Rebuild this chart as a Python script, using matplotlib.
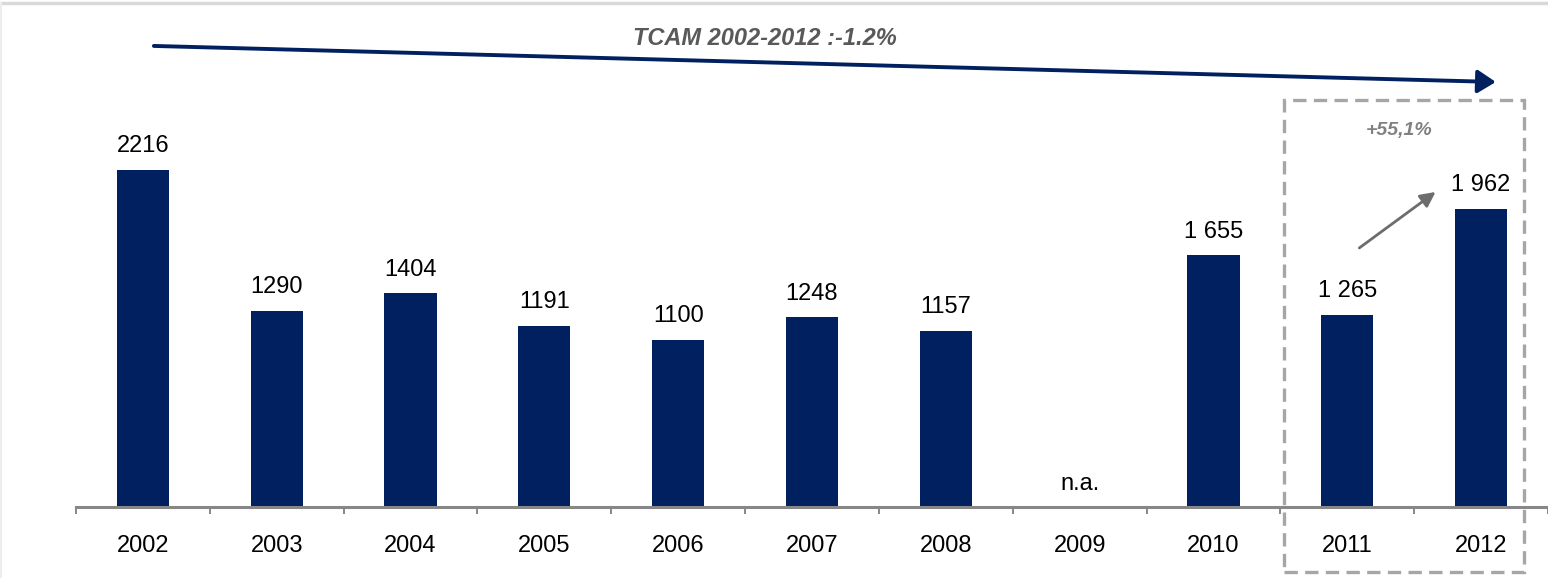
import matplotlib
matplotlib.use("Agg")
import matplotlib.pyplot as plt
from matplotlib.patches import Rectangle
from matplotlib.lines import Line2D

years = ["2002", "2003", "2004", "2005", "2006", "2007", "2008", "2009", "2010", "2011", "2012"]
values = [2216, 1290, 1404, 1191, 1100, 1248, 1157, None, 1655, 1265, 1962]
value_labels = ["2216", "1290", "1404", "1191", "1100", "1248", "1157", "n.a.", "1 655", "1 265", "1 962"]
cagr_text = "TCAM 2002-2012 :-1.2%"
growth_text = "+55,1%"

plt.rcParams['font.family'] = ['Liberation Sans', 'DejaVu Sans']

W, H = 1548, 578
fig = plt.figure(figsize=(W / 100, H / 100), dpi=100)
ax = fig.add_axes([76 / W, 71 / H, 1472 / W, 507 / H])

bar_color = "#002060"
axis_gray = "#878787"
x = list(range(len(years)))
heights = [v if v is not None else 0 for v in values]
bars = ax.bar(x, heights, width=0.39, color=bar_color, zorder=2)

ax.set_xlim(-0.5, 10.485)
ax.set_ylim(0, 3333)

for s in ["top", "right", "left"]:
    ax.spines[s].set_visible(False)
ax.spines["bottom"].set_color(axis_gray)
ax.spines["bottom"].set_linewidth(2.2)
ax.set_yticks([])

ax.set_xticks([i - 0.5 for i in range(len(years) + 1)])
ax.set_xticklabels([])
ax.tick_params(axis="x", which="major", length=5, width=1.4, color=axis_gray, direction="out")
ax.set_xticks(x, minor=True)
ax.set_xticklabels(years, minor=True, fontsize=17, color="black")
ax.tick_params(axis="x", which="minor", length=0, pad=20)

for i, (v, lab) in enumerate(zip(values, value_labels)):
    if v is None:
        ax.annotate(lab, (i, 0), xytext=(0, 16.5), textcoords="offset points",
                    ha="center", va="center", fontsize=17, color="black")
    else:
        ax.annotate(lab, (i, v), xytext=(0, 17), textcoords="offset points",
                    ha="center", va="center", fontsize=17, color="black")

# CAGR arrow and text
ax.annotate("", xy=(10.11, 2794), xytext=(0.082, 3031),
            arrowprops=dict(arrowstyle="-|>,head_length=1.1,head_width=0.7",
                            color=bar_color, lw=2.8, shrinkA=0, shrinkB=0),
            annotation_clip=False)
ax.text(4.65, 3083, cagr_text, ha="center", va="center", fontsize=17,
        fontweight="bold", fontstyle="italic", color="#595959")

# dashed highlight box
rect = Rectangle((8.53, -427), 10.32 - 8.53, 2676 + 427, fill=False,
                 edgecolor="#A6A6A6", lw=2.4, linestyle=(0, (4, 2.2)),
                 clip_on=False, zorder=3)
ax.add_patch(rect)
ax.text(9.39, 2472, growth_text, ha="center", va="center", fontsize=14,
        fontweight="bold", fontstyle="italic", color="#808080")
ax.annotate("", xy=(9.66, 2071), xytext=(9.09, 1703),
            arrowprops=dict(arrowstyle="-|>,head_length=0.9,head_width=0.45",
                            color="#6d6d6d", lw=2.0, shrinkA=0, shrinkB=0),
            annotation_clip=False)

# light frame lines at top and left
fig.add_artist(Line2D([0, 1], [1 - 3 / H, 1 - 3 / H], color="#D9D9D9", lw=2.5, transform=fig.transFigure))
fig.add_artist(Line2D([1 / W, 1 / W], [0, 1 - 3 / H], color="#EDEDED", lw=1.5, transform=fig.transFigure))

fig.savefig("out.png", dpi=100)
